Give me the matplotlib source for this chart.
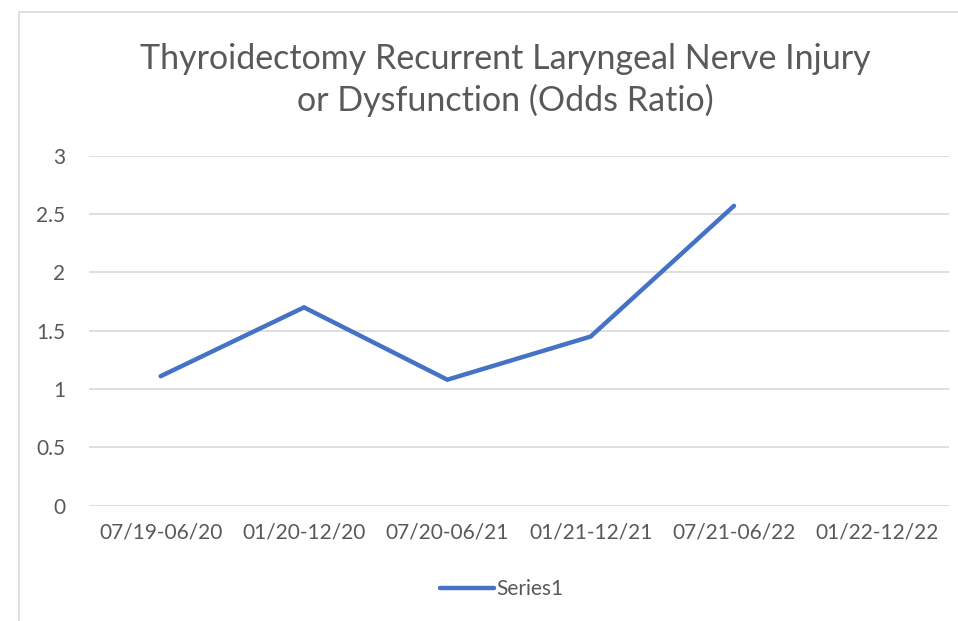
import matplotlib
matplotlib.use("Agg")
import matplotlib.pyplot as plt
from matplotlib.patches import Rectangle

categories = ["07/19-06/20", "01/20-12/20", "07/20-06/21", "01/21-12/21", "07/21-06/22", "01/22-12/22"]
series1 = [1.11, 1.70, 1.08, 1.45, 2.57]
y_ticks = [0, 0.5, 1, 1.5, 2, 2.5, 3]
y_tick_labels = ["0", "0.5", "1", "1.5", "2", "2.5", "3"]
title = "Thyroidectomy Recurrent Laryngeal Nerve Injury\nor Dysfunction (Odds Ratio)"

plt.rcParams['font.family'] = ['Lato', 'DejaVu Sans']

W, H = 958, 621
fig = plt.figure(figsize=(W / 100, H / 100), dpi=100)
fig.patch.set_facecolor("white")

# outer chart border
fig.patches.append(Rectangle((19 / W, -0.1), 1.2, (H - 12) / H + 0.1, transform=fig.transFigure,
                             fill=False, edgecolor="#D9D9D9", linewidth=1.2))

ax = fig.add_axes([89 / W, (H - 505.7) / H, (949 - 89) / W, 350 / H])
x = list(range(len(series1)))
ax.plot(x, series1, color="#4472C4", linewidth=3.2, solid_capstyle="round",
        solid_joinstyle="miter", label="Series1", zorder=3)

ax.set_xlim(-0.5, len(categories) - 0.5)
ax.set_ylim(0, 3)
ax.set_xticks(range(len(categories)))
ax.set_xticklabels(categories)
ax.set_yticks(y_ticks)
ax.set_yticklabels(y_tick_labels)
ax.tick_params(axis="both", length=0, labelsize=15, colors="#595959")
ax.tick_params(axis="x", pad=12)
ax.tick_params(axis="y", pad=17)
for lbl in ax.get_yticklabels():
    lbl.set_horizontalalignment("right")
ax.grid(axis="y", color="#D9D9D9", linewidth=1.2)
ax.set_axisbelow(True)
for s in ax.spines.values():
    s.set_visible(False)

fig.text(505 / W, (H - 80) / H, title, ha="center", va="center",
         fontsize=24.5, color="#595959", linespacing=1.33)

leg = fig.legend(loc="center", bbox_to_anchor=(502 / W, (H - 589) / H), frameon=False,
                 fontsize=15, handlelength=2.6, handletextpad=0.1, labelcolor="#595959")

fig.savefig("out.png", dpi=100)
